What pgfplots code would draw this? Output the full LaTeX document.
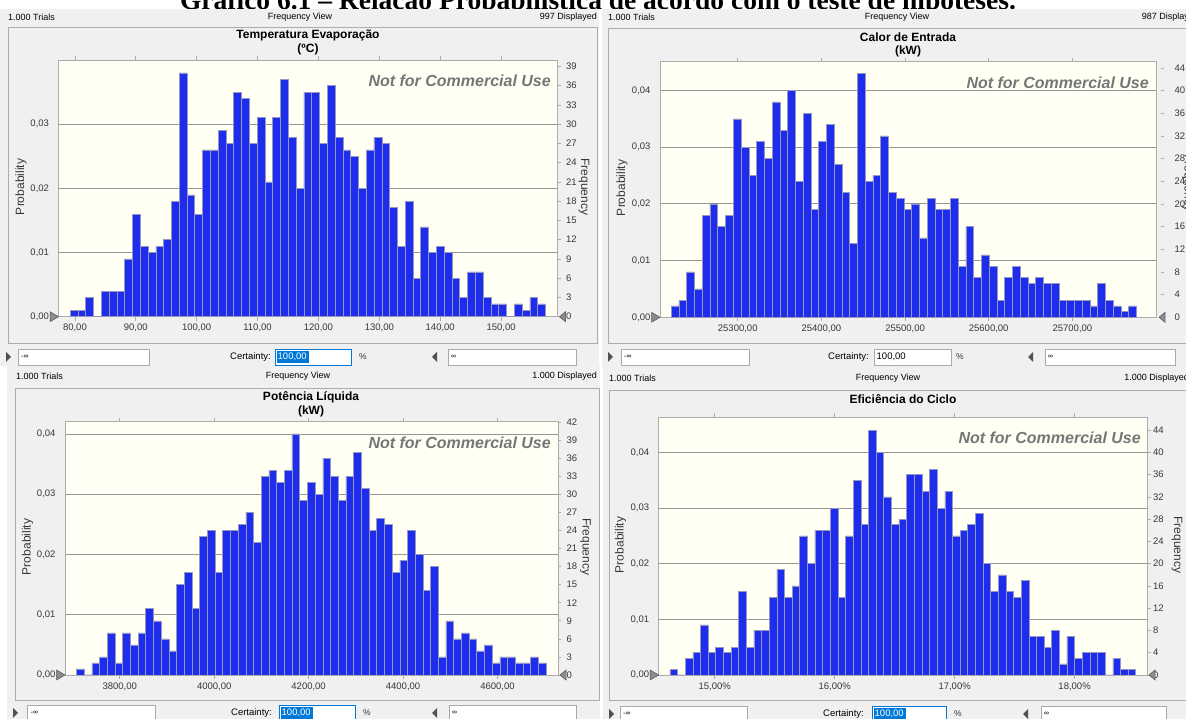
\documentclass[border=0pt]{standalone}
\usepackage{fontspec}
\setmainfont{Liberation Sans}
\newfontfamily\tserif{Liberation Serif}
\usepackage{pgfplots}
\pgfplotsset{compat=1.18}

\definecolor{panelbg}{RGB}{240,240,240}
\definecolor{framegray}{RGB}{172,172,172}
\definecolor{plotbg}{RGB}{255,255,244}
\definecolor{gridgray}{RGB}{150,150,150}
\definecolor{barblue}{RGB}{30,44,236}
\definecolor{baredge}{RGB}{150,150,195}
\definecolor{labgray}{RGB}{55,55,55}
\definecolor{wm}{RGB}{118,118,118}
\definecolor{selblue}{RGB}{0,120,215}
\definecolor{boxborder}{RGB}{170,170,170}
\definecolor{trifill}{RGB}{140,140,140}
\definecolor{tridraw}{RGB}{80,80,80}

\pgfplotsset{
 cb/.style={scale only axis, anchor=south west, ymin=0,
   axis background/.style={fill=plotbg},
   axis line style={draw=framegray, line width=0.7pt},
   ymajorgrids, grid style={draw=gridgray, line width=0.9pt},
   ytick style={draw=none},
   xtick style={draw=framegray, line width=0.6pt},
   tick align=outside, major tick length=4pt,
   tick label style={font=\fontsize{9.5}{11}\selectfont, text=labgray},
   yticklabel style={xshift=-2pt},
 },
 cbr/.style={scale only axis, anchor=south west, ymin=0, xmin=0, xmax=1,
   axis y line*=right, hide x axis,
   y axis line style={draw=none},
   ytick style={draw=framegray, line width=0.6pt},
   tick align=outside, major tick length=3pt,
   tick label style={font=\fontsize{9.5}{11}\selectfont, text=labgray},
   /pgf/number format/assume math mode=true,
 },
 bars/.style={ybar interval, fill=barblue, draw=baredge, line width=0.5pt},
}

\begin{document}
\begin{tikzpicture}[x=1pt,y=1pt]
\useasboundingbox (0,0) rectangle (1186,719);
\clip (0,0) rectangle (1186,719);
\fill[white] (0,0) rectangle (1186,719);

% cut-off document title (only its lower part shows above the panels)
\node[anchor=base, inner sep=0pt, font=\tserif\bfseries\fontsize{27.5}{28}\selectfont] at (598,709.5) {Gráfico 6.1 – Relação Probabilística de acordo com o teste de hipóteses.};

% panel backgrounds
\fill[panelbg] (0,709.5) rectangle (599,353);
\fill[panelbg] (602,709.5) rectangle (1186,353);
\fill[panelbg] (7,353) rectangle (600,0);
\fill[panelbg] (603,353) rectangle (1186,0);

% frames
\draw[framegray, line width=0.8pt] (8,692) rectangle (597,376);
\draw[framegray, line width=0.8pt] (608,691) rectangle (1197,376);
\draw[framegray, line width=0.8pt] (15,331) rectangle (599,19);
\draw[framegray, line width=0.8pt] (609,329) rectangle (1198,19);

% headers
\begin{scope}[every node/.style={inner sep=0pt, font=\fontsize{9}{10}\selectfont}]
\node[anchor=west] at (8,702) {1.000 Trials};
\node at (300,702) {Frequency View};
\node[anchor=east] at (597,702) {997 Displayed};
\node[anchor=west] at (608,702) {1.000 Trials};
\node at (897,702) {Frequency View};
\node[anchor=east] at (1199,702) {987 Displayed};
\node[anchor=west] at (16,343) {1.000 Trials};
\node at (298,343) {Frequency View};
\node[anchor=east] at (597,343) {1.000 Displayed};
\node[anchor=west] at (609,341) {1.000 Trials};
\node at (888,341) {Frequency View};
\node[anchor=east] at (1189,341) {1.000 Displayed};
\end{scope}

% titles
\begin{scope}[every node/.style={inner sep=0pt, font=\bfseries\fontsize{12}{13}\selectfont}]
\node at (308,684) {Temperatura Evaporação};
\node at (308,670) {(ºC)};
\node at (908,682) {Calor de Entrada};
\node at (908,668) {(kW)};
\node at (311,322) {Potência Líquida};
\node at (311,308) {(kW)};
\node at (903,320) {Eficiência do Ciclo};
\end{scope}

% ================= TL =================
\begin{axis}[cb, at={(58.5pt,402.3pt)}, width=499pt, height=256.7pt,
  xmin=-1.48, xmax=62.55, ymax=40,
  xtick={0.625,8.4375,16.25,24.0625,31.875,39.6875,47.5,55.3125},
  xticklabels={{80,00},{90,00},{100,00},{110,00},{120,00},{130,00},{140,00},{150,00}},
  ytick={0,10,20,30}, yticklabels={{0,00},{0,01},{0,02},{0,03}}]
\addplot[bars] coordinates {(0,1)(1,1)(2,3)(3,0)(4,4)(5,4)(6,4)(7,9)(8,16)(9,11)(10,10)(11,11)(12,12)(13,18)(14,38)(15,19)(16,16)(17,26)(18,26)(19,29)(20,27)(21,35)(22,34)(23,27)(24,31)(25,21)(26,31)(27,37)(28,28)(29,20)(30,35)(31,35)(32,27)(33,36)(34,28)(35,26)(36,25)(37,20)(38,26)(39,28)(40,27)(41,17)(42,11)(43,18)(44,6)(45,14)(46,10)(47,11)(48,10)(49,6)(50,3)(51,7)(52,7)(53,3)(54,2)(55,2)(56,0)(57,2)(58,1)(59,3)(60,2)(61,0)};
\end{axis}
\begin{axis}[cbr, at={(58.5pt,402.3pt)}, width=499pt, height=256.7pt, ymax=40,
  ytick={0,3,...,39}, yticklabel style={xshift=2pt}]
\end{axis}

% ================= TR =================
\begin{axis}[cb, at={(660pt,401.7pt)}, width=496.8pt, height=255.6pt,
  xmin=-1.45, xmax=62.65, ymax=45.1,
  xtick={8.58,19.37,30.17,40.96,51.76},
  xticklabels={{25300,00},{25400,00},{25500,00},{25600,00},{25700,00}},
  ytick={0,10,20,30,40}, yticklabels={{0,00},{0,01},{0,02},{0,03},{0,04}}]
\addplot[bars] coordinates {(0,2)(1,3)(2,8)(3,5)(4,18)(5,20)(6,16)(7,18)(8,35)(9,30)(10,25)(11,31)(12,28)(13,38)(14,33)(15,40)(16,24)(17,36)(18,19)(19,31)(20,34)(21,27)(22,22)(23,13)(24,43)(25,24)(26,25)(27,32)(28,22)(29,21)(30,19)(31,20)(32,14)(33,21)(34,19)(35,19)(36,21)(37,9)(38,16)(39,7)(40,11)(41,9)(42,3)(43,7)(44,9)(45,7)(46,6)(47,7)(48,6)(49,6)(50,3)(51,3)(52,3)(53,3)(54,2)(55,6)(56,3)(57,2)(58,1)(59,2)(60,0)};
\end{axis}
\begin{axis}[cbr, at={(660pt,401.7pt)}, width=501pt, height=255.6pt, ymax=45.1,
  ytick={0,4,...,44}, yticklabel style={xshift=7pt}]
\end{axis}

% ================= BL =================
\begin{axis}[cb, at={(65pt,44pt)}, width=493pt, height=253.3pt,
  xmin=-1.49, xmax=62.56, ymax=42.04,
  xtick={5.62,17.89,30.16,42.43,54.70},
  xticklabels={{3800,00},{4000,00},{4200,00},{4400,00},{4600,00}},
  ytick={0,10,20,30,40}, yticklabels={{0,00},{0,01},{0,02},{0,03},{0,04}}]
\addplot[bars] coordinates {(0,1)(1,0)(2,2)(3,3)(4,7)(5,2)(6,7)(7,5)(8,7)(9,11)(10,9)(11,6)(12,4)(13,15)(14,17)(15,11)(16,23)(17,24)(18,17)(19,24)(20,24)(21,25)(22,27)(23,22)(24,33)(25,34)(26,32)(27,34)(28,40)(29,29)(30,32)(31,30)(32,36)(33,33)(34,29)(35,33)(36,37)(37,31)(38,24)(39,26)(40,25)(41,17)(42,19)(43,24)(44,20)(45,14)(46,18)(47,3)(48,9)(49,6)(50,7)(51,6)(52,4)(53,5)(54,2)(55,3)(56,3)(57,2)(58,2)(59,3)(60,2)(61,0)};
\end{axis}
\begin{axis}[cbr, at={(65pt,44pt)}, width=493pt, height=253.3pt, ymax=42.04,
  ytick={0,3,...,42}, yticklabel style={xshift=2pt}]
\end{axis}

% ================= BR =================
\begin{axis}[cb, at={(658.7pt,44pt)}, width=488.8pt, height=257.7pt,
  xmin=-1.47, xmax=62.55, ymax=46.3,
  xtick={5.87,21.58,37.29,53.0},
  xticklabels={{15,00\%},{16,00\%},{17,00\%},{18,00\%}},
  ytick={0,10,20,30,40}, yticklabels={{0,00},{0,01},{0,02},{0,03},{0,04}}]
\addplot[bars] coordinates {(0,1)(1,0)(2,3)(3,4)(4,9)(5,4)(6,5)(7,4)(8,5)(9,15)(10,5)(11,8)(12,8)(13,14)(14,19)(15,14)(16,16)(17,25)(18,20)(19,26)(20,26)(21,30)(22,14)(23,25)(24,35)(25,27)(26,44)(27,40)(28,32)(29,27)(30,28)(31,36)(32,36)(33,33)(34,37)(35,30)(36,33)(37,25)(38,26)(39,27)(40,29)(41,20)(42,15)(43,18)(44,15)(45,14)(46,17)(47,7)(48,7)(49,5)(50,8)(51,2)(52,7)(53,3)(54,4)(55,4)(56,4)(57,0)(58,3)(59,1)(60,1)(61,0)};
\end{axis}
\begin{axis}[cbr, at={(658.7pt,44pt)}, width=488.8pt, height=257.7pt, ymax=46.3,
  ytick={0,4,...,44}, yticklabel style={xshift=-1pt}]
\end{axis}

% axis labels
\begin{scope}[every node/.style={inner sep=0pt, font=\fontsize{12}{13}\selectfont, text=labgray}]
\node[rotate=90] at (21,532) {Probability};
\node[rotate=90] at (622,531) {Probability};
\node[rotate=90] at (27.5,172) {Probability};
\node[rotate=90] at (620.5,174) {Probability};
\node[rotate=-90] at (584,532) {Frequency};
\node[rotate=-90] at (1187.5,536) {Frequency};
\node[rotate=-90] at (585.5,172) {Frequency};
\node[rotate=-90] at (1177,174) {Frequency};
\end{scope}

% watermarks
\begin{scope}[every node/.style={inner sep=0pt, anchor=east, text=wm, font=\bfseries\itshape\fontsize{16}{17}\selectfont}]
\node at (551,638) {Not for Commercial Use};
\node at (1149,636) {Not for Commercial Use};
\node at (551,276) {Not for Commercial Use};
\node at (1141,281) {Not for Commercial Use};
\end{scope}

% markers at y = 0
\begin{scope}[fill=trifill, draw=tridraw, line width=0.5pt]
\filldraw (50,407.3) -- (58.5,402.3) -- (50,397.3) -- cycle;
\filldraw (565.5,407.3) -- (559.5,402.3) -- (565.5,397.3) -- cycle;
\filldraw (651.5,406.7) -- (660,401.7) -- (651.5,396.7) -- cycle;
\filldraw (1165,406.7) -- (1159,401.7) -- (1165,396.7) -- cycle;
\filldraw (56.5,49) -- (65,44) -- (56.5,39) -- cycle;
\filldraw (566,49) -- (560,44) -- (566,39) -- cycle;
\filldraw (650,49) -- (658.7,44) -- (650,39) -- cycle;
\filldraw (1155,49) -- (1149,44) -- (1155,39) -- cycle;
\end{scope}

% input rows
\begin{scope}[every node/.style={inner sep=0pt}]
% TL (y=362)
\fill[tridraw] (6,367) -- (11,362) -- (6,357) -- cycle;
\draw[boxborder, fill=white] (18,354) rectangle (149,370);
\node[anchor=west, font=\fontsize{7}{7}\selectfont] at (21,362) {-∞};
\node[anchor=east, font=\fontsize{9.5}{10}\selectfont] at (271,362) {Certainty:};
\draw[selblue, fill=white] (275,354) rectangle (351,370);
\fill[selblue] (277,356) rectangle (309,368);
\node[anchor=west, text=white, font=\fontsize{9.5}{10}\selectfont] at (277.5,362) {100,00};
\node[font=\fontsize{8.5}{9}\selectfont, text=labgray] at (363,362) {\%};
\fill[tridraw] (437,367) -- (432,362) -- (437,357) -- cycle;
\draw[boxborder, fill=white] (448,354) rectangle (576,370);
\node[anchor=west, font=\fontsize{7}{7}\selectfont] at (451,362) {∞};
% TR (y=362)
\fill[tridraw] (608,367) -- (613,362) -- (608,357) -- cycle;
\draw[boxborder, fill=white] (621,354) rectangle (749,370);
\node[anchor=west, font=\fontsize{7}{7}\selectfont] at (624,362) {-∞};
\node[anchor=east, font=\fontsize{9.5}{10}\selectfont] at (869,362) {Certainty:};
\draw[boxborder, fill=white] (874,354) rectangle (951,370);
\node[anchor=west, font=\fontsize{9.5}{10}\selectfont] at (876.5,362) {100,00};
\node[font=\fontsize{8.5}{9}\selectfont, text=labgray] at (960,362) {\%};
\fill[tridraw] (1033,367) -- (1028,362) -- (1033,357) -- cycle;
\draw[boxborder, fill=white] (1045,354) rectangle (1175,370);
\node[anchor=west, font=\fontsize{7}{7}\selectfont] at (1048,362) {∞};
% BL (y=6)
\fill[tridraw] (13,11) -- (18,6) -- (13,1) -- cycle;
\draw[boxborder, fill=white] (27.5,-2) rectangle (155,14);
\node[anchor=west, font=\fontsize{7}{7}\selectfont] at (30.5,6) {-∞};
\node[anchor=east, font=\fontsize{9.5}{10}\selectfont] at (272,6) {Certainty:};
\draw[selblue, fill=white] (279,-2) rectangle (355,14);
\fill[selblue] (281,0) rectangle (313,12);
\node[anchor=west, text=white, font=\fontsize{9.5}{10}\selectfont] at (281.5,6) {100,00};
\node[font=\fontsize{8.5}{9}\selectfont, text=labgray] at (367,6) {\%};
\fill[tridraw] (437,11) -- (432,6) -- (437,1) -- cycle;
\draw[boxborder, fill=white] (449,-2) rectangle (576,14);
\node[anchor=west, font=\fontsize{7}{7}\selectfont] at (452,6) {∞};
% BR (y=5)
\fill[tridraw] (609,10) -- (614,5) -- (609,0) -- cycle;
\draw[boxborder, fill=white] (620,-3) rectangle (747,13);
\node[anchor=west, font=\fontsize{7}{7}\selectfont] at (623,5) {-∞};
\node[anchor=east, font=\fontsize{9.5}{10}\selectfont] at (864,5) {Certainty:};
\draw[selblue, fill=white] (872,-3) rectangle (946,13);
\fill[selblue] (874,-1) rectangle (906,11);
\node[anchor=west, text=white, font=\fontsize{9.5}{10}\selectfont] at (874.5,5) {100,00};
\node[font=\fontsize{8.5}{9}\selectfont, text=labgray] at (958,5) {\%};
\fill[tridraw] (1028,10) -- (1023,5) -- (1028,0) -- cycle;
\draw[boxborder, fill=white] (1041,-3) rectangle (1166,13);
\node[anchor=west, font=\fontsize{7}{7}\selectfont] at (1044,5) {∞};
\end{scope}
\end{tikzpicture}
\end{document}
